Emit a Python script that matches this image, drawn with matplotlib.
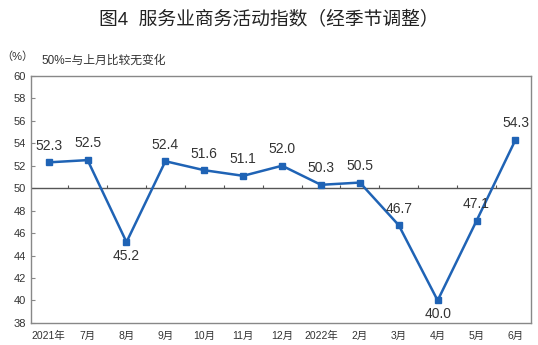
import matplotlib
matplotlib.use("Agg")
import matplotlib.pyplot as plt

plt.rcParams['font.family'] = ['Liberation Sans', 'Noto Sans CJK SC', 'DejaVu Sans']

months = ["2021年", "7月", "8月", "9月", "10月", "11月", "12月",
          "2022年", "2月", "3月", "4月", "5月", "6月"]
values = [52.3, 52.5, 45.2, 52.4, 51.6, 51.1, 52.0, 50.3, 50.5, 46.7, 40.0, 47.1, 54.3]
# label above (1) or below (-1) the point
label_side = [1, 1, -1, 1, 1, 1, 1, 1, 1, 1, -1, 1, 1]

blue = "#1f63b5"
grey = "#888888"
txt = "#333333"

fig = plt.figure(figsize=(5.38, 3.45), dpi=100)
ax = fig.add_axes([0.058, 0.064, 0.929, 0.716])

x = list(range(len(values)))
ax.plot(x, values, color=blue, lw=1.8, marker="s", ms=4.5, zorder=3)

for xi, v, s in zip(x, values, label_side):
    off = 12 if s > 0 else -10
    ax.annotate(f"{v:.1f}", (xi, v), xytext=(0, off), textcoords="offset points",
                ha="center", va="center", fontsize=10, color=txt)

ax.axhline(50, color="#555555", lw=1.0, zorder=2)
for xi in x[:-1]:
    ax.vlines(xi + 0.5, 50, 50.3, color="#555555", lw=0.8)

ax.set_ylim(38, 60)
ax.set_yticks(range(38, 61, 2))
ax.set_xlim(-0.45, 12.4)
ax.set_xticks(x)
ax.set_xticklabels(months)
ax.tick_params(axis="x", length=0, pad=6, labelsize=7.5, colors=txt)
ax.tick_params(axis="y", length=3, direction="in", labelsize=8, colors=txt, pad=4, color=grey)
for sp in ax.spines.values():
    sp.set_color(grey)
    sp.set_linewidth(1.0)

fig.text(0.5, 0.945, "图4  服务业商务活动指数（经季节调整）", ha="center", va="center",
         fontsize=13.5, color="#222222")
fig.text(0.003, 0.835, "（%）", ha="left", va="center", fontsize=8, color=txt)
fig.text(0.078, 0.823, "50%=与上月比较无变化", ha="left", va="center", fontsize=8.5, color=txt)

fig.savefig("out.png", dpi=100)
